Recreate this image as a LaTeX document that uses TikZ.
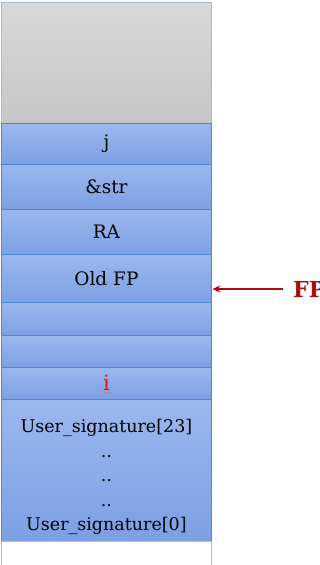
\documentclass[tikz,border=0pt]{standalone}
\usepackage{fontspec}
\setmainfont{DejaVu Serif}
\usetikzlibrary{arrows.meta,decorations.pathmorphing}
\definecolor{cellborder}{HTML}{4E88D2}
\definecolor{bluetop}{HTML}{9CB7EE}
\definecolor{bluebot}{HTML}{7BA0E3}
\definecolor{graytop}{HTML}{D8D8D8}
\definecolor{graybot}{HTML}{C6C6C6}
\definecolor{grayborder}{HTML}{A9B9CC}
\definecolor{whiteborder}{HTML}{9CC3E6}
\definecolor{fpred}{HTML}{B00A0A}
\definecolor{ired}{HTML}{E8141A}
\begin{document}
\begin{tikzpicture}[x=1pt,y=-1pt]
\useasboundingbox (0,0) rectangle (320,565);
\tikzset{
  cellbase/.style={line width=0.9pt,minimum width=210pt,anchor=north west,inner sep=0pt,
    font=\fontsize{18.5}{24.5}\selectfont,align=center},
  bluecell/.style={cellbase,draw=cellborder,top color=bluetop,bottom color=bluebot},
  graycell/.style={cellbase,draw=grayborder,top color=graytop,bottom color=graybot},
  whitecell/.style={cellbase,draw=whiteborder,fill=white},
  sigtext/.style={font=\fontsize{17.5}{24.5}\selectfont,align=center,inner sep=0pt},
  fplabel/.style={font=\bfseries\fontsize{22}{22}\selectfont,text=fpred,anchor=west,inner sep=0pt},
  fparrow/.style={-{Stealth[length=8pt,width=7pt]},draw=fpred,line width=2.2pt},
  squiggle/.style={draw=ired!60,line width=0.6pt,decorate,decoration={snake,amplitude=0.9pt,segment length=2.6pt}}
}
\node[graycell,minimum height=121.3pt] (free) at (1,2) {};
\node[bluecell,minimum height=40.7pt] (j) at (1,123.3) {j};
\node[bluecell,minimum height=45.3pt] (str) at (1,164) {\&str};
\node[bluecell,minimum height=45pt] (ra) at (1,209.3) {RA};
\node[bluecell,minimum height=48pt] (oldfp) at (1,254.3) {Old FP};
\node[bluecell,minimum height=32.7pt] (b1) at (1,302.3) {};
\node[bluecell,minimum height=31.7pt] (b2) at (1,335) {};
\node[bluecell,minimum height=32pt,text=ired,font=\fontsize{21}{24}\selectfont] (i) at (1,366.7) {i};
\node[bluecell,minimum height=142pt] (sig) at (1,398.7) {};
\node[sigtext] (sigt) at ([yshift=-7pt]sig.center) {User\_signature[23]\\..\\..\\..\\User\_signature[0]};
\node[whitecell,minimum height=30pt] (low) at (1,540.7) {};
\draw[squiggle] ([xshift=-3pt,yshift=-10pt]i.center) -- ([xshift=5pt,yshift=-10pt]i.center);
\node[fplabel] (fp) at (293,289) {FP};
\draw[fparrow] ([xshift=-10pt]fp.west) -- ([xshift=0.5pt]fp.west -| oldfp.east);
\end{tikzpicture}
\end{document}
